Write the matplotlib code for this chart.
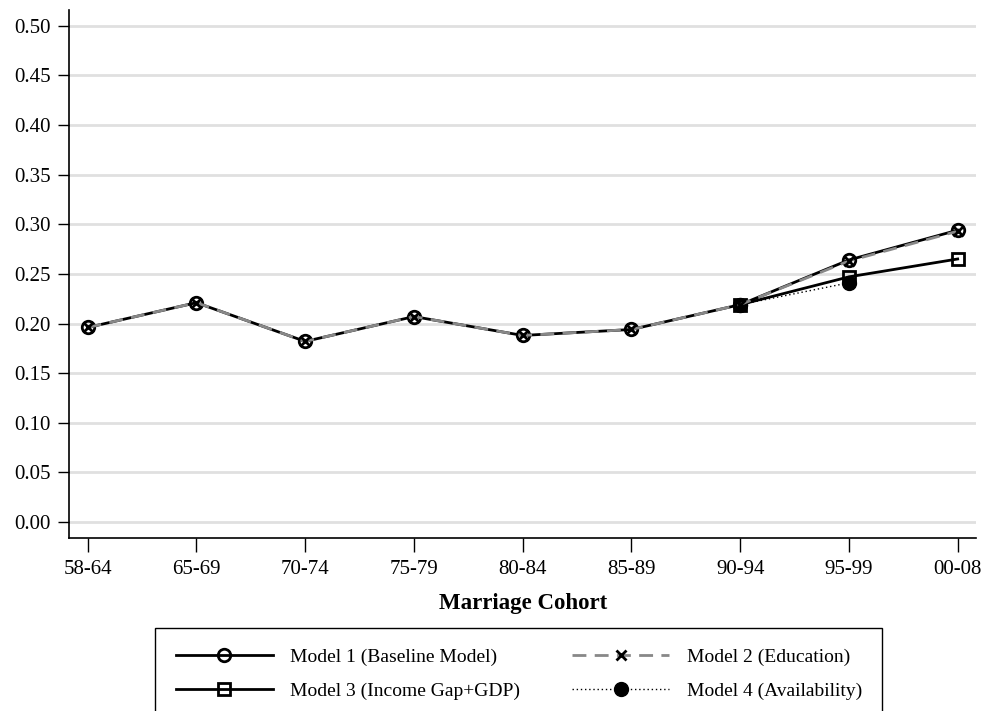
import matplotlib
matplotlib.use("Agg")
import matplotlib.pyplot as plt
import numpy as np

cohorts = ["58-64", "65-69", "70-74", "75-79", "80-84", "85-89", "90-94", "95-99", "00-08"]
model1 = [0.196, 0.221, 0.182, 0.207, 0.188, 0.194, 0.219, 0.264, 0.294]
model2 = [0.196, 0.221, 0.182, 0.207, 0.188, 0.194, 0.219, 0.263, 0.293]
# models 3 and 4 only cover the later cohorts
model3_idx = [6, 7, 8]
model3 = [0.219, 0.247, 0.265]
model4_idx = [6, 7]
model4 = [0.219, 0.241]

plt.rcParams['font.family'] = ['Liberation Serif', 'DejaVu Serif']

fig = plt.figure(figsize=(9.88, 7.11), dpi=100)
ax = fig.add_axes([0.07, 0.2433, 0.918, 0.743])

x = np.arange(len(cohorts))

l1, = ax.plot(x, model1, color='black', lw=2, marker='o', ms=9, mfc='none',
              mec='black', mew=2, label='Model 1 (Baseline Model)', zorder=4)
l2, = ax.plot(x, model2, color='#888888', lw=2, ls=(0, (5, 3)), marker='x', ms=7,
              mec='black', mew=2, label='Model 2 (Education)', zorder=5)
l3, = ax.plot(x[model3_idx], model3, color='black', lw=2, marker='s', ms=9, mfc='none',
              mec='black', mew=2, label='Model 3 (Income Gap+GDP)', zorder=4)
l4, = ax.plot(x[model4_idx], model4, color='black', lw=1, ls=(0, (1, 2)), marker='o', ms=10,
              mfc='black', mec='black', label='Model 4 (Availability)', zorder=3)

ax.set_xlim(-0.17, 8.17)
ax.set_ylim(-0.016, 0.516)
yt = np.arange(0, 0.51, 0.05)
ax.set_yticks(yt)
ax.set_yticklabels([f"{v:.2f}" for v in yt])
ax.set_xticks(x)
ax.set_xticklabels(cohorts)
ax.tick_params(axis='both', labelsize=15, width=1, direction='out', color='black')
ax.tick_params(axis='y', length=8, pad=5)
ax.tick_params(axis='x', length=10, pad=6)
ax.grid(axis='y', color='#e0e0e0', lw=2)
ax.set_axisbelow(True)
for s in ['top', 'right']:
    ax.spines[s].set_visible(False)
for s in ['left', 'bottom']:
    ax.spines[s].set_linewidth(1.2)

ax.set_xlabel('Marriage Cohort', fontsize=16.5, fontweight='bold', labelpad=10)

# legend box starts under the axis title and runs off the bottom edge
leg = fig.legend(handles=[l1, l3, l2, l4], loc='upper left', ncol=2,
                 bbox_to_anchor=(0.157, 0.0, 0.736, 0.1167), mode='expand',
                 fontsize=14, handlelength=5, handletextpad=0.9,
                 borderpad=1.05, labelspacing=0.85, columnspacing=2.0,
                 borderaxespad=0, fancybox=False, edgecolor='black', framealpha=1)
leg.get_frame().set_linewidth(1)

fig.savefig('out.png', dpi=100)
